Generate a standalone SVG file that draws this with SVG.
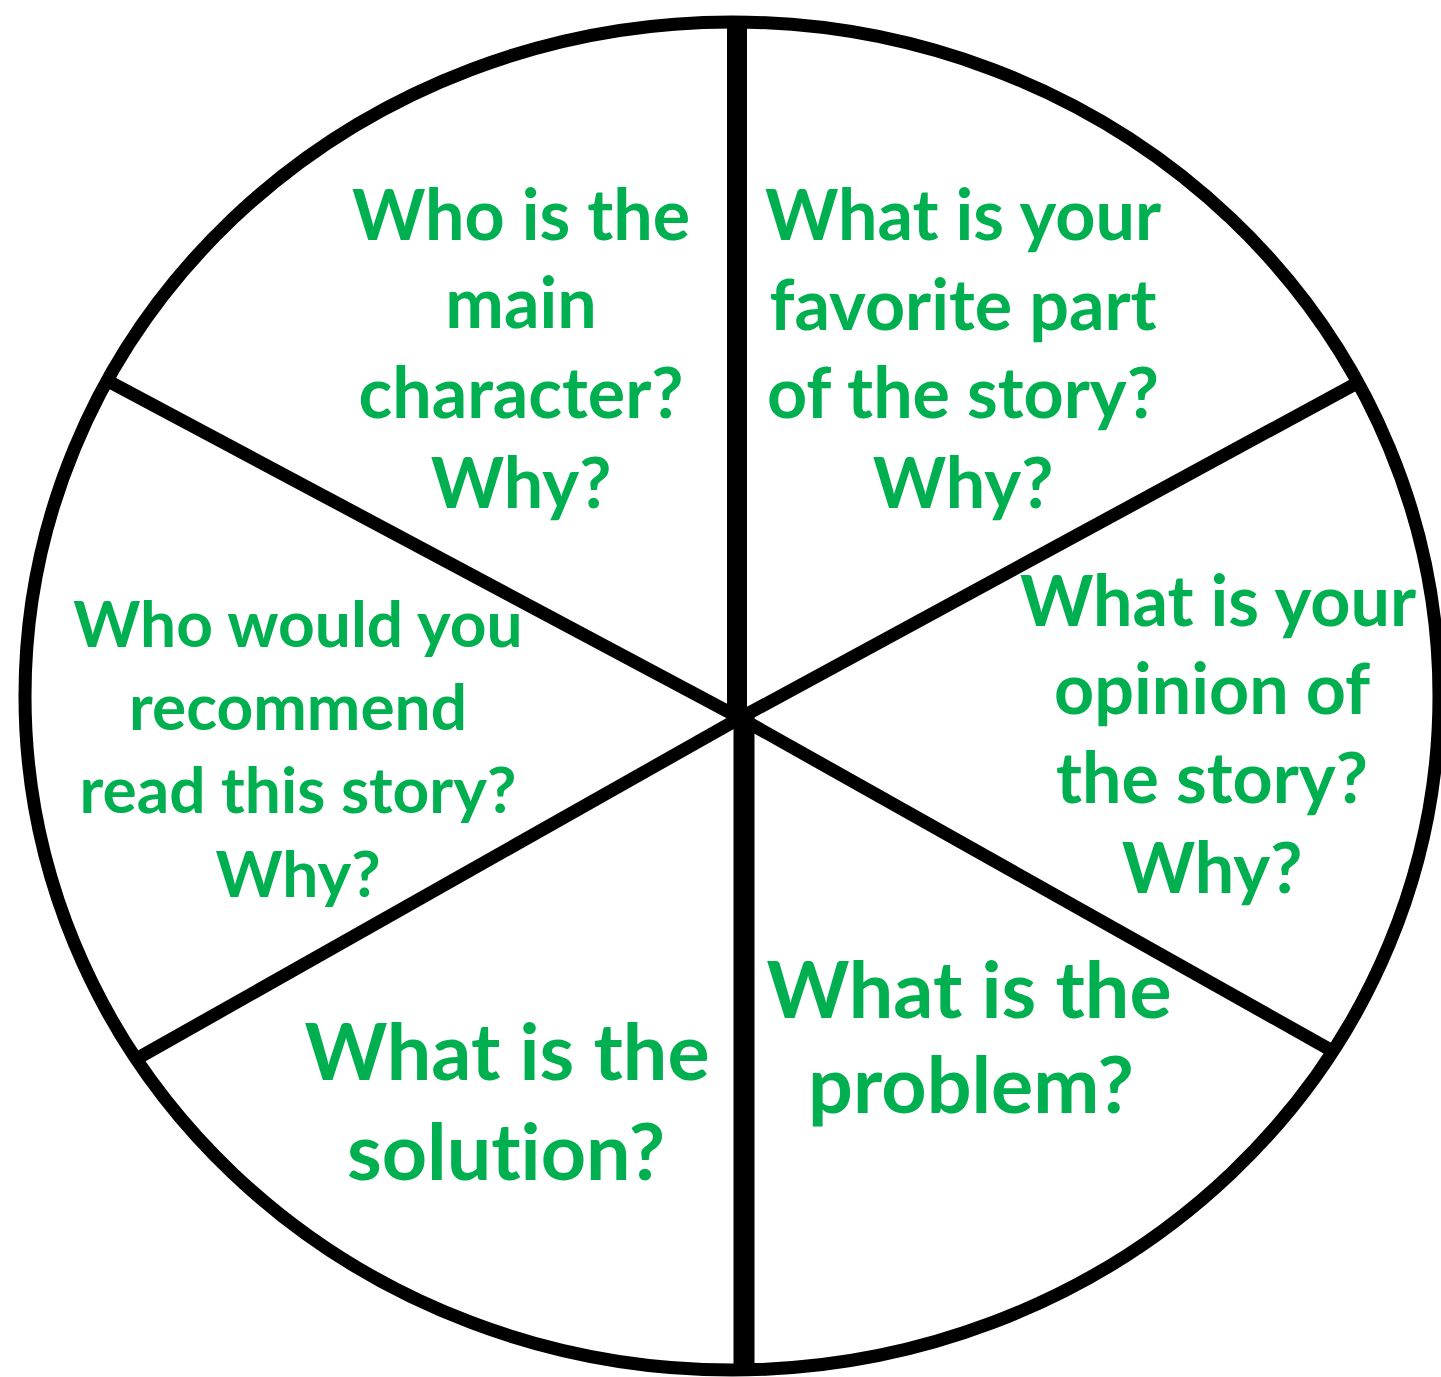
<svg xmlns="http://www.w3.org/2000/svg" width="1441" height="1377" viewBox="0 0 1441 1377">
<style>
.ln{stroke:#000;fill:none;stroke-linecap:butt}
.t{font-family:Lato,"Open Sans","Liberation Sans",sans-serif;font-weight:bold;fill:#00B050;text-anchor:middle;font-variant-ligatures:none;font-feature-settings:"liga" 0}
.m{font-size:70px}
.s{font-size:64px}
.l{font-size:79px}
</style>
<rect width="1441" height="1377" fill="#fff"/>
<g id="connectors">
<ellipse class="ln" cx="732" cy="696" rx="707" ry="674" stroke-width="13"/>
<line class="ln" x1="737" y1="22" x2="737" y2="722" stroke-width="20"/>
<line class="ln" x1="744" y1="714" x2="744" y2="1372" stroke-width="21"/>
<line class="ln" x1="108" y1="381" x2="740" y2="718" stroke-width="13"/>
<line class="ln" x1="740" y1="718" x2="1336" y2="1053" stroke-width="13"/>
<line class="ln" x1="1359" y1="382" x2="740" y2="718" stroke-width="13"/>
<line class="ln" x1="740" y1="718" x2="138" y2="1058" stroke-width="13"/>
</g>
<g id="node-main-character">
<text class="t m" x="521" y="240">Who is the</text>
<text class="t m" x="521" y="328">main</text>
<text class="t m" x="521" y="418">character?</text>
<text class="t m" x="521" y="508">Why?</text>
</g>
<g id="node-favorite-part">
<text class="t m" x="963" y="240">What is your</text>
<text class="t m" x="963" y="330">favorite part</text>
<text class="t m" x="963" y="418">of the story?</text>
<text class="t m" x="963" y="508">Why?</text>
</g>
<g id="node-opinion">
<text class="t m" x="1218" y="626">What is your</text>
<text class="t m" x="1212" y="714">opinion of</text>
<text class="t m" x="1212" y="803">the story?</text>
<text class="t m" x="1212" y="893">Why?</text>
</g>
<g id="node-recommend">
<text class="t s" x="298" y="647">Who would you</text>
<text class="t s" x="298" y="730">recommend</text>
<text class="t s" x="298" y="813">read this story?</text>
<text class="t s" x="298" y="897">Why?</text>
</g>
<g id="node-problem">
<text class="t l" x="969" y="1018">What is the</text>
<text class="t l" x="971" y="1113">problem?</text>
</g>
<g id="node-solution">
<text class="t l" x="507" y="1080">What is the</text>
<text class="t l" x="506" y="1180">solution?</text>
</g>
</svg>
